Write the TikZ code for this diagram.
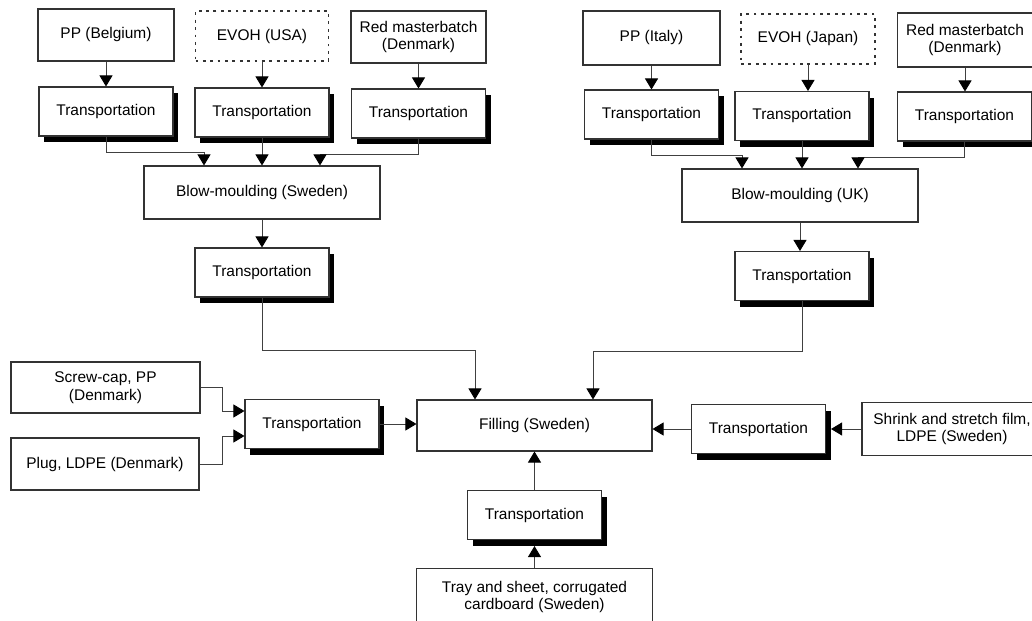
\documentclass[tikz,border=0pt]{standalone}
\usepackage{fontspec}
\setmainfont{Liberation Sans}
\usetikzlibrary{arrows.meta,shadows}
\tikzset{
  box/.style={draw=black!80, line width=0.6pt, fill=white, align=center,
    inner sep=1pt, font=\fontsize{8.8}{10.2}\selectfont},
  dbox/.style={box, dash pattern=on 1.6pt off 2.6pt},
  trbox/.style={box, minimum width=26.8mm, minimum height=9.8mm,
    drop shadow={shadow xshift=1mm, shadow yshift=-1.2mm, opacity=1, fill=black}},
  arr/.style={draw=black!75, line width=0.5pt,
    -{Triangle[length=2.2mm, width=2.6mm, fill=black, color=black]}}
}
\begin{document}
\begin{tikzpicture}[x=0.2mm, y=-0.2mm]
				\useasboundingbox (0,0) rectangle (1032,620);
				% sources, left branch
				\node[box, minimum width=27.2mm, minimum height=10.4mm] (ppbe) at (106,35) {PP (Belgium)};
				\node[dbox, minimum width=26.6mm, minimum height=10mm] (evohus) at (262,36) {EVOH (USA)};
				\node[box, minimum width=27mm, minimum height=10.4mm] (redl) at (418.5,37) {Red masterbatch\\(Denmark)};
				\node[trbox] (trA) at (106,111.5) {Transportation};
				\node[trbox] (trB) at (262,112.5) {Transportation};
				\node[trbox] (trC) at (418.5,113.5) {Transportation};
				\node[box, minimum width=47.2mm, minimum height=10.6mm] (blowse) at (262,192.5) {Blow-moulding (Sweden)};
				\node[trbox] (trD) at (262,272.5) {Transportation};
				% sources, right branch
				\node[box, minimum width=27.4mm, minimum height=10.8mm] (ppit) at (651.5,38) {PP (Italy)};
				\node[dbox, minimum width=26.8mm, minimum height=10mm] (evohjp) at (808,39) {EVOH (Japan)};
				\node[box, minimum width=27mm, minimum height=10.8mm] (redr) at (965,40) {Red masterbatch\\(Denmark)};
				\node[trbox] (trE) at (651.5,114.5) {Transportation};
				\node[trbox] (trF) at (802,116) {Transportation};
				\node[trbox] (trG) at (964.5,116.5) {Transportation};
				\node[box, minimum width=47.2mm, minimum height=10.6mm] (blowuk) at (800,195.5) {Blow-moulding (UK)};
				\node[trbox] (trH) at (802,276) {Transportation};
				% filling and the other inputs
				\node[box, minimum width=47mm, minimum height=10.2mm] (fill) at (534.5,425.5) {Filling (Sweden)};
				\node[box, minimum width=37.8mm, minimum height=10.2mm] (screw) at (105.5,387.5) {Screw-cap, PP\\(Denmark)};
				\node[box, minimum width=37.6mm, minimum height=10.4mm] (plug) at (105,464) {Plug, LDPE (Denmark)};
				\node[trbox] (trI) at (312,424) {Transportation};
				\node[trbox] (trJ) at (758.5,429) {Transportation};
				\node[box, minimum width=36mm, minimum height=10.6mm] (shrink) at (952,429) {Shrink and stretch film,\\LDPE (Sweden)};
				\node[trbox] (trK) at (534.5,515) {Transportation};
				\node[box, minimum width=47.2mm, minimum height=11.4mm] (tray) at (534.5,597) {Tray and sheet, corrugated\\cardboard (Sweden)};
				% connectors, left branch
				\draw[arr] (ppbe) -- (trA);
				\draw[arr] (evohus) -- (trB);
				\draw[arr] (redl) -- (trC);
				\draw[arr] (trA.south) -- ++(0,16) -| ([xshift=-11.6mm]blowse.north);
				\draw[arr] (trB.south) -- (trB.south |- blowse.north);
				\draw[arr] (trC.south) -- ++(0,16) -| ([xshift=11.6mm]blowse.north);
				\draw[arr] (blowse.south) -- (blowse.south |- trD.north);
				% connectors, right branch
				\draw[arr] (ppit) -- (trE);
				\draw[arr] (evohjp.south) -- (evohjp.south |- trF.north);
				\draw[arr] (redr.south) -- (redr.south |- trG.north);
				\draw[arr] (trE.south) -- ++(0,16) -| ([xshift=-11.6mm]blowuk.north);
				\draw[arr] (trF.south) -- (trF.south |- blowuk.north);
				\draw[arr] (trG.south) -- ++(0,16) -| ([xshift=11.6mm]blowuk.north);
				\draw[arr] (blowuk.south) -- (blowuk.south |- trH.north);
				% into filling
				\draw[arr] (trD.south) -- ++(0,53) -| ([xshift=-11.9mm]fill.north);
				\draw[arr] (trH.south) -- ++(0,50) -| ([xshift=11.7mm]fill.north);
				\draw[arr] (screw.east) -- ++(22,0) |- ([yshift=2.6mm]trI.west);
				\draw[arr] (plug.east) -- ++(23,0) |- ([yshift=-2.4mm]trI.west);
				\draw[arr] (trI.east) -- (trI.east -| fill.west);
				\draw[arr] (shrink.west) -- ([xshift=1mm]trJ.east);
				\draw[arr] (trJ.west) -- (trJ.west -| fill.east);
				\draw[arr] (tray.north) -- ([yshift=-1.2mm]trK.south);
				\draw[arr] (trK.north) -- (fill.south);
			\end{tikzpicture}
\end{document}
